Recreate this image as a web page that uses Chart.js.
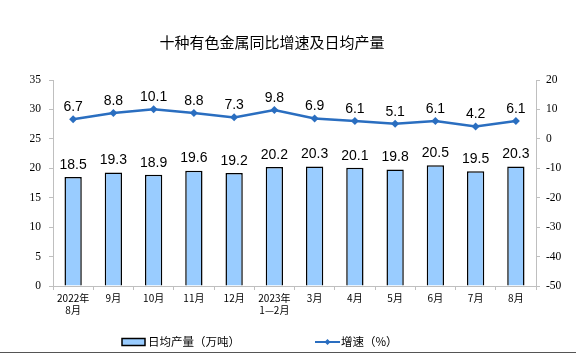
<!DOCTYPE html>
<html><head><meta charset="utf-8">
<script src="https://cdn.jsdelivr.net/npm/chart.js@4/dist/chart.umd.min.js"></script>
<style>
html,body{margin:0;padding:0;background:#fff;}
#wrap{position:relative;width:576px;height:355px;}
#wrap:after{content:"";position:absolute;left:0;right:0;top:352px;height:1px;background:#555;}
</style>
</head><body>
<div id="wrap"><canvas id="c" width="576" height="355"></canvas></div>
<script>
const title = "十种有色金属同比增速及日均产量";
const categories = [["2022年","8月"],"9月","10月","11月","12月",["2023年","1—2月"],"3月","4月","5月","6月","7月","8月"];
const outputValues = [18.5,19.3,18.9,19.6,19.2,20.2,20.3,20.1,19.8,20.5,19.5,20.3];
const growthValues = [6.7,8.8,10.1,8.8,7.3,9.8,6.9,6.1,5.1,6.1,4.2,6.1];
const outputLabel = "日均产量（万吨）";
const growthLabel = "增速（%）";

const CJK = '"Noto Sans CJK SC", sans-serif';
const SERIF = '"Liberation Serif", "DejaVu Serif", serif';
const LINE_COLOR = '#2A6EC0';
const BAR_COLOR = '#99CCFF';

const overlay = {
  id: 'overlay',
  afterDatasetsDraw(chart) {
    const ctx = chart.ctx;
    ctx.save();
    ctx.fillStyle = '#000';
    ctx.font = '14px "Liberation Sans", Arial, sans-serif';
    ctx.textAlign = 'center';
    ctx.textBaseline = 'middle';
    chart.getDatasetMeta(0).data.forEach((el, i) => {
      ctx.fillText(outputValues[i].toFixed(1), el.x, el.y - 12);
    });
    chart.getDatasetMeta(1).data.forEach((el, i) => {
      ctx.fillText(growthValues[i].toFixed(1), el.x, el.y - 12);
    });
    ctx.restore();
  },
  afterDraw(chart) {
    const ctx = chart.ctx;
    ctx.save();
    ctx.fillStyle = '#000';
    ctx.font = '15px ' + CJK;
    ctx.textAlign = 'center';
    ctx.textBaseline = 'middle';
    ctx.fillText(title, 272, 42);
    // legend
    const ly = 342;
    ctx.fillStyle = BAR_COLOR;
    ctx.strokeStyle = '#000';
    ctx.lineWidth = 1.5;
    ctx.fillRect(122, ly - 3.5, 23, 7);
    ctx.strokeRect(122, ly - 3.5, 23, 7);
    ctx.fillStyle = '#000';
    ctx.font = '11.5px ' + CJK;
    ctx.textAlign = 'left';
    ctx.fillText(outputLabel, 148, ly);
    ctx.strokeStyle = LINE_COLOR;
    ctx.lineWidth = 2;
    ctx.beginPath(); ctx.moveTo(315, ly); ctx.lineTo(340, ly); ctx.stroke();
    ctx.fillStyle = LINE_COLOR;
    ctx.beginPath(); ctx.moveTo(327.5, ly - 3); ctx.lineTo(330.5, ly); ctx.lineTo(327.5, ly + 3); ctx.lineTo(324.5, ly); ctx.closePath(); ctx.fill();
    ctx.fillStyle = '#000';
    ctx.fillText(growthLabel, 341, ly);
    ctx.restore();
  }
};

new Chart(document.getElementById('c'), {
  data: {
    labels: categories,
    datasets: [
      { type: 'bar', label: outputLabel, data: outputValues, yAxisID: 'y',
        backgroundColor: BAR_COLOR, borderColor: '#000', borderWidth: 1.5,
        categoryPercentage: 1, barPercentage: 0.43, order: 2 },
      { type: 'line', label: growthLabel, data: growthValues, yAxisID: 'y1',
        borderColor: LINE_COLOR, backgroundColor: LINE_COLOR, borderWidth: 2.5,
        pointStyle: 'rectRot', pointRadius: 4, pointBorderWidth: 0, tension: 0, order: 1 }
    ]
  },
  options: {
    responsive: false,
    animation: false,
    layout: { padding: { top: 80, bottom: 0, left: 0, right: 0 } },
    plugins: { legend: { display: false }, tooltip: { enabled: false }, title: { display: false } },
    scales: {
      x: {
        offset: true,
        grid: { display: true, offset: true, drawOnChartArea: false, drawTicks: true, tickLength: 4, color: '#BFBFBF' },
        border: { color: '#BFBFBF', width: 1 },
        ticks: { color: '#000', font: { family: CJK, size: 10 }, maxRotation: 0, autoSkip: false, padding: 2 },
        afterFit(s) { s.height = 69; }
      },
      y: {
        position: 'left', min: 0, max: 35,
        ticks: { stepSize: 5, color: '#000', font: { family: SERIF, size: 11.5 }, padding: 8 },
        grid: { display: true, drawOnChartArea: false, tickLength: 4, color: '#BFBFBF' },
        border: { color: '#BFBFBF', width: 1 },
        afterFit(s) { s.width = 53; }
      },
      y1: {
        position: 'right', min: -50, max: 20,
        ticks: { stepSize: 10, color: '#000', font: { family: SERIF, size: 11.5 }, padding: 6 },
        grid: { display: true, drawOnChartArea: false, tickLength: 4, color: '#BFBFBF' },
        border: { color: '#BFBFBF', width: 1 },
        afterFit(s) { s.width = 40; }
      }
    }
  },
  plugins: [overlay]
});
</script>
</body></html>
